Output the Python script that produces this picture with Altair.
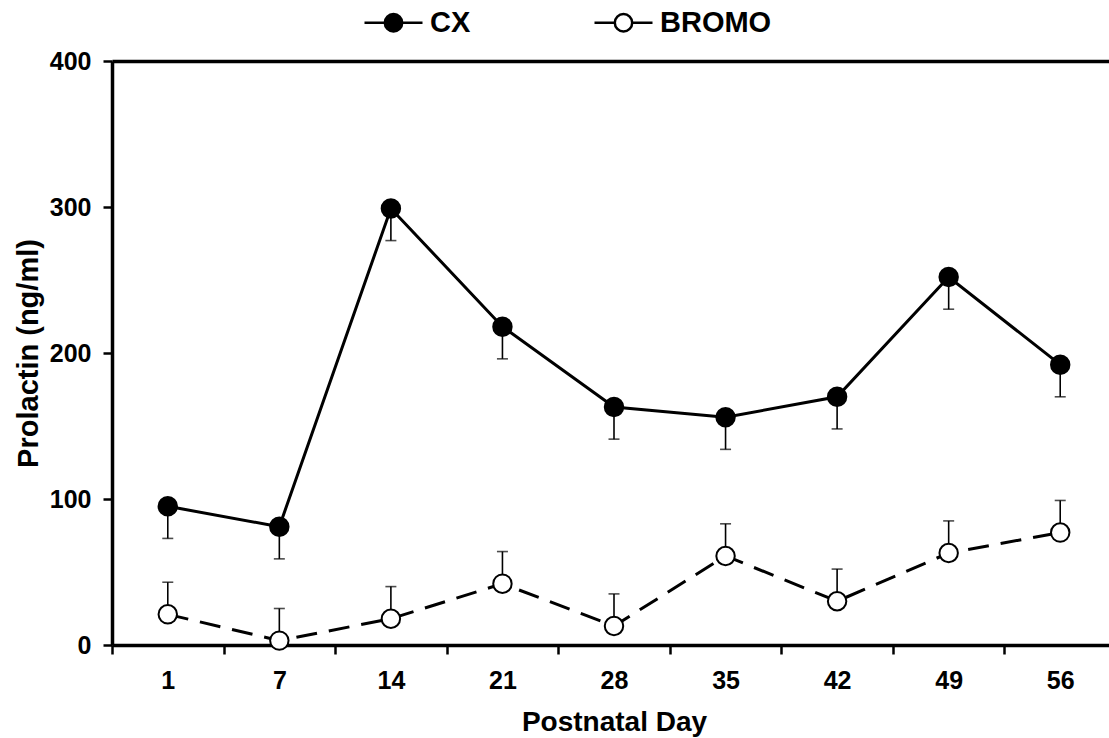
import altair as alt
import pandas as pd

days = ["1", "7", "14", "21", "28", "35", "42", "49", "56"]
cx = [95, 81, 299, 218, 163, 156, 170, 252, 192]
cx_se = [22, 22, 22, 22, 22, 22, 22, 22, 22]
bromo = [21, 3, 18, 42, 13, 61, 30, 63, 77]
bromo_se = [22, 22, 22, 22, 22, 22, 22, 22, 22]
groups = ["CX", "BROMO"]

rows = []
for d, v, s in zip(days, cx, cx_se):
    rows.append({"day": d, "group": "CX", "value": v, "end": v - s})
for d, v, s in zip(days, bromo, bromo_se):
    rows.append({"day": d, "group": "BROMO", "value": v, "end": v + s})
df = pd.DataFrame(rows)

FONT = "Liberation Sans"
xscale = alt.Scale(domain=days, range=[0, 1004], paddingInner=0, paddingOuter=0)
yscale = alt.Scale(domain=[0, 400], nice=False, zero=True)

x_bottom = alt.X(
    "day:N", scale=xscale, sort=days,
    axis=alt.Axis(
        orient="bottom", title="Postnatal Day", labelAngle=0, tickBand="extent",
        tickSize=9, tickWidth=2.5, tickColor="black", domainWidth=3.5, domainColor="black",
        labelFontSize=25, labelFontWeight="bold", labelFont=FONT, labelColor="black",
        labelPadding=14, titleFontSize=28, titleFontWeight="bold", titleFont=FONT,
        titleColor="black", titlePadding=15, grid=False,
    ),
)
x_none = alt.X("day:N", scale=xscale, sort=days, axis=None)
y_enc = alt.Y(
    "value:Q", scale=yscale,
    axis=alt.Axis(
        title="Prolactin (ng/ml)", values=[0, 100, 200, 300, 400],
        tickSize=9, tickWidth=2.5, tickColor="black", domainWidth=3.5, domainColor="black",
        labelFontSize=25, labelFontWeight="bold", labelFont=FONT, labelColor="black",
        labelPadding=12, titleFontSize=29, titleFontWeight="bold", titleFont=FONT,
        titleColor="black", titlePadding=6, grid=False,
    ),
)

base = alt.Chart(df)

line_cx = base.transform_filter(alt.datum.group == "CX").mark_line(
    color="black", strokeWidth=3
).encode(x=x_bottom, y=y_enc)

line_bromo = base.transform_filter(alt.datum.group == "BROMO").mark_line(
    color="black", strokeWidth=3, strokeDash=[21, 12]
).encode(x=x_none, y="value:Q")

rules = base.mark_rule(color="black", strokeWidth=1.6).encode(
    x=x_none, y="value:Q", y2="end:Q",
)

caps = base.mark_tick(color="black", thickness=1.6, size=11, orient="horizontal").encode(
    x=x_none, y=alt.Y("end:Q", scale=yscale),
)

legend_path = "M-1,0H-0.3A0.3,0.3 0 1,0 0.3,0A0.3,0.3 0 1,0 -0.3,0ZM0.3,0H1"

points = base.mark_point(
    shape="circle", filled=True, size=340, stroke="black", strokeWidth=2, opacity=1
).encode(
    x=x_none,
    y="value:Q",
    fill=alt.Fill(
        "group:N",
        scale=alt.Scale(domain=groups, range=["black", "white"]),
        legend=alt.Legend(
            title=None, orient="none", legendX=251, legendY=-69, direction="horizontal",
            symbolType=legend_path, symbolSize=3364, symbolStrokeColor="black",
            symbolStrokeWidth=2.5, symbolOpacity=1, labelFont=FONT, labelFontSize=29,
            labelFontWeight="bold", labelColor="black", labelOffset=6,
            columnPadding=118, padding=0,
        ),
    ),
)

top_axis = base.mark_point(opacity=0).encode(
    x=alt.X(
        "day:N", scale=xscale, sort=days,
        axis=alt.Axis(orient="top", title=None, labels=False, ticks=False,
                      domainWidth=3.5, domainColor="black", grid=False),
    ),
    y="value:Q",
)

chart = (
    alt.layer(line_cx, line_bromo, rules, caps, points, top_axis)
    .resolve_axis(x="independent")
    .properties(
        width=997, height=584,
        autosize=alt.AutoSizeParams(type="none"),
        padding={"left": 112, "top": 61, "right": 0, "bottom": 93},
        background="white",
    )
    .configure_view(stroke=None)
)

chart.save("out.html", embed_options={"renderer": "svg", "actions": False})
